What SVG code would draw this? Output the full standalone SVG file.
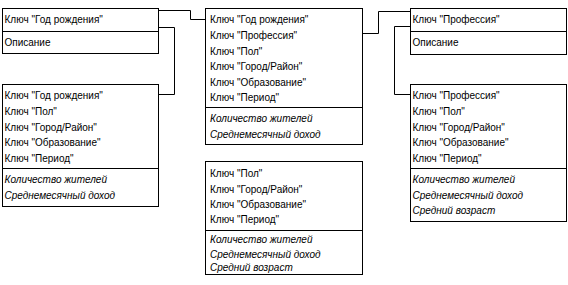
<svg xmlns="http://www.w3.org/2000/svg" width="568" height="285" viewBox="0 0 568 285">
<style>
rect.box{fill:#fff;stroke:#000;stroke-width:1}
line.div{stroke:#000;stroke-width:1}
text{font-family:"Liberation Sans",Arial,sans-serif;font-size:10px;fill:#000}
text.m{font-style:italic}
.conn path{fill:none;stroke:#000;stroke-width:1}
</style>
<rect width="568" height="285" fill="#fff"/>
<g class="conn" id="connectors">
<path d="M158.5,10.5 H190.5 V19.5 H205.5"/>
<path d="M158.5,27.5 H174.5 V94.5 H158.5"/>
<path d="M362.5,33.5 H378.5 V11.5 H410.5"/>
<path d="M410.5,26.5 H394.5 V94.5 H410.5"/>
</g>
<g id="b1">
<rect class="box" x="2.5" y="8.5" width="156" height="45"/>
<line class="div" x1="2.5" y1="31.5" x2="158.5" y2="31.5"/>
<text x="4.5" y="23">Ключ "Год рождения"</text>
<text x="4.5" y="46">Описание</text>
</g>
<g id="b2">
<rect class="box" x="2.5" y="84.5" width="156" height="122"/>
<line class="div" x1="2.5" y1="168.5" x2="158.5" y2="168.5"/>
<text x="4.5" y="99">Ключ "Год рождения"</text>
<text x="4.5" y="115">Ключ "Пол"</text>
<text x="4.5" y="130.5">Ключ "Город/Район"</text>
<text x="4.5" y="146">Ключ "Образование"</text>
<text x="4.5" y="161.5">Ключ "Период"</text>
<text class="m" x="4.5" y="183">Количество жителей</text>
<text class="m" x="4.5" y="199">Среднемесячный доход</text>
</g>
<g id="c1">
<rect class="box" x="205.5" y="8.5" width="157" height="136"/>
<line class="div" x1="205.5" y1="107.5" x2="362.5" y2="107.5"/>
<text x="210" y="23">Ключ "Год рождения"</text>
<text x="210" y="39">Ключ "Профессия"</text>
<text x="210" y="54.5">Ключ "Пол"</text>
<text x="210" y="70">Ключ "Город/Район"</text>
<text x="210" y="85.5">Ключ "Образование"</text>
<text x="210" y="101">Ключ "Период"</text>
<text class="m" x="210" y="122">Количество жителей</text>
<text class="m" x="210" y="138">Среднемесячный доход</text>
</g>
<g id="c2">
<rect class="box" x="205.5" y="161.5" width="157" height="113"/>
<line class="div" x1="205.5" y1="230.5" x2="362.5" y2="230.5"/>
<text x="210" y="177">Ключ "Пол"</text>
<text x="210" y="192.5">Ключ "Город/Район"</text>
<text x="210" y="208">Ключ "Образование"</text>
<text x="210" y="223">Ключ "Период"</text>
<text class="m" x="210" y="243">Количество жителей</text>
<text class="m" x="210" y="258">Среднемесячный доход</text>
<text class="m" x="210" y="271">Средний возраст</text>
</g>
<g id="r1">
<rect class="box" x="410.5" y="8.5" width="156" height="46"/>
<line class="div" x1="410.5" y1="31.5" x2="566.5" y2="31.5"/>
<text x="412.5" y="23">Ключ "Профессия"</text>
<text x="412.5" y="46">Описание</text>
</g>
<g id="r2">
<rect class="box" x="410.5" y="84.5" width="156" height="137"/>
<line class="div" x1="410.5" y1="168.5" x2="566.5" y2="168.5"/>
<text x="412.5" y="99">Ключ "Профессия"</text>
<text x="412.5" y="115">Ключ "Пол"</text>
<text x="412.5" y="130.5">Ключ "Город/Район"</text>
<text x="412.5" y="146">Ключ "Образование"</text>
<text x="412.5" y="161.5">Ключ "Период"</text>
<text class="m" x="412.5" y="183">Количество жителей</text>
<text class="m" x="412.5" y="199">Среднемесячный доход</text>
<text class="m" x="412.5" y="214">Средний возраст</text>
</g>
</svg>
